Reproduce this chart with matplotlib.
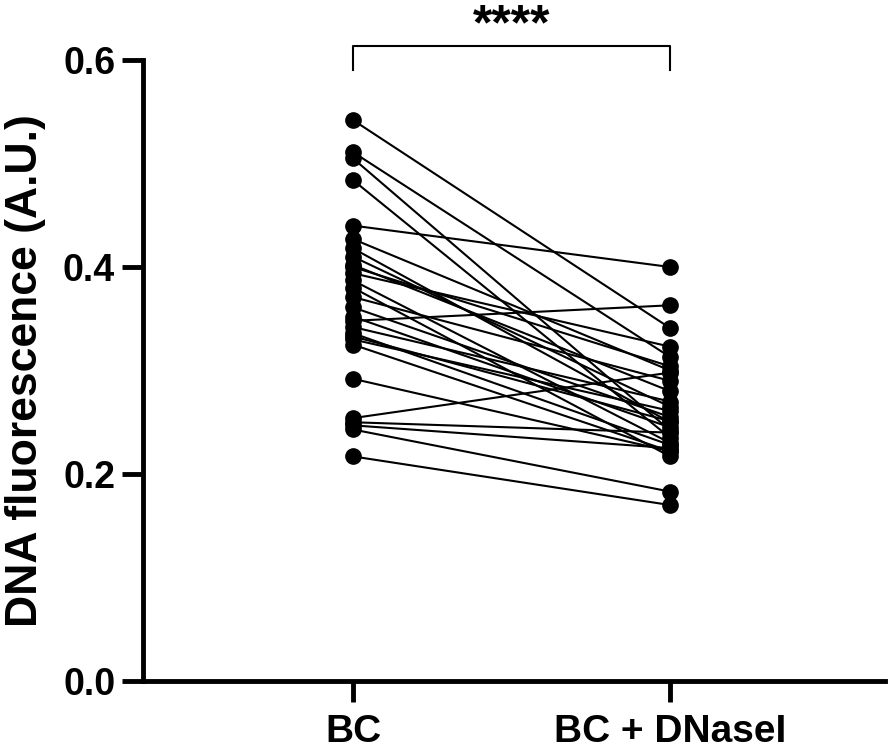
import numpy as np
import matplotlib.pyplot as plt

plt.rcParams['font.family'] = ['Liberation Sans', 'DejaVu Sans']

groups = ['BC', 'BC + DNaseI']

# paired values, one entry per sample
bc = [0.542, 0.511, 0.505, 0.484, 0.440, 0.427, 0.418, 0.410, 0.402, 0.400,
      0.394, 0.387, 0.380, 0.371, 0.361, 0.352, 0.348, 0.342, 0.336, 0.333,
      0.330, 0.325, 0.292, 0.254, 0.250, 0.247, 0.243, 0.217]
dnase = [0.341, 0.313, 0.242, 0.235, 0.400, 0.300, 0.250, 0.265, 0.280, 0.304,
         0.323, 0.230, 0.217, 0.290, 0.255, 0.245, 0.363, 0.270, 0.228, 0.251,
         0.261, 0.222, 0.222, 0.298, 0.240, 0.225, 0.183, 0.170]

sig_label = '****'

fig = plt.figure(figsize=(8.92, 7.5), dpi=100)
ax = fig.add_axes([0.1603, 0.092, 0.832, 0.828])

for a, b in zip(bc, dnase):
    ax.plot([0, 1], [a, b], color='black', lw=1.5, marker='o', ms=11,
            mfc='black', mec='black', solid_capstyle='round')

ax.set_xlim(-0.662, 1.678)
ax.set_ylim(0, 0.6)
ax.set_yticks([0.0, 0.2, 0.4, 0.6])
ax.set_yticklabels(['0.0', '0.2', '0.4', '0.6'])
ax.set_xticks([0, 1])
ax.set_xticklabels(groups)

for s in ['top', 'right']:
    ax.spines[s].set_visible(False)
for s in ['left', 'bottom']:
    ax.spines[s].set_linewidth(3.5)

ax.tick_params(axis='both', direction='out', length=15, width=3.5, color='black')
ax.tick_params(axis='y', pad=5, labelsize=27)
ax.tick_params(axis='x', pad=9, labelsize=28)
for lab in ax.get_xticklabels() + ax.get_yticklabels():
    lab.set_fontweight('bold')

ax.set_ylabel('DNA fluorescence (A.U.)', fontsize=32, fontweight='bold', labelpad=12)

# significance bracket
ax.plot([0, 0, 1, 1], [0.590, 0.6135, 0.6135, 0.590], color='black', lw=1.5,
        clip_on=False)
ax.text(0.5, 0.6195, sig_label, ha='center', va='baseline', fontsize=36,
        fontweight='bold', clip_on=False)

fig.savefig('out.png', dpi=100)
